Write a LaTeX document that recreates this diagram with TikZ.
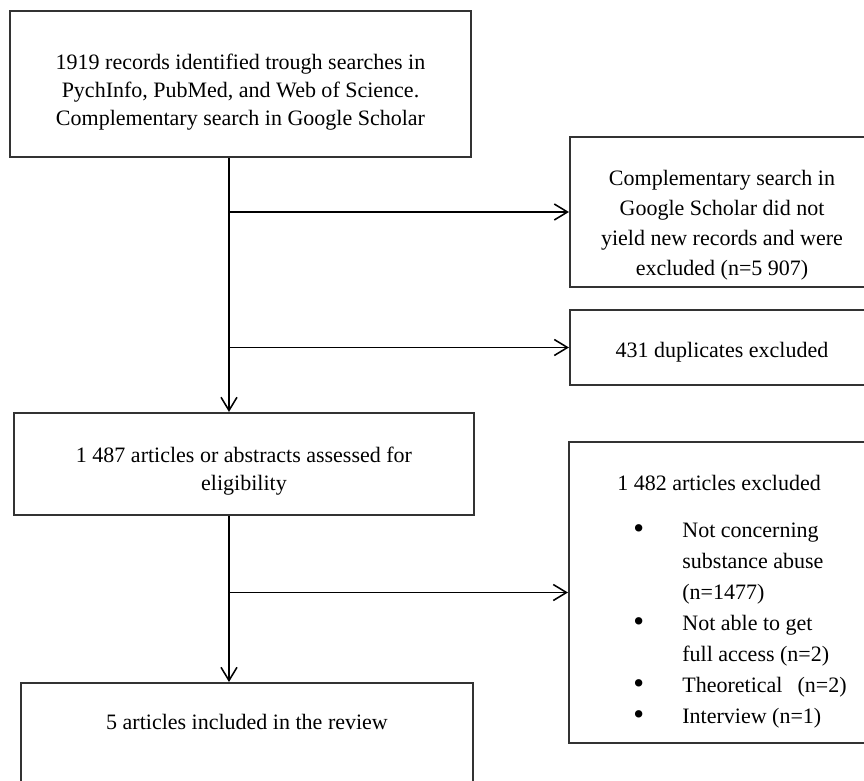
\documentclass[tikz,border=0pt]{standalone}
\usepackage{fontspec}
\setmainfont{Liberation Serif}
\usepackage{tikz}
\usetikzlibrary{positioning,arrows.meta}

\begin{document}
\begin{tikzpicture}[
    box/.style={rectangle, draw=black!80, line width=1.5pt, align=center, inner sep=0pt, font=\fontsize{15.65}{19.9}\selectfont},
    arrow/.style={-{Straight Barb[length=3.3mm,width=4mm]}, line width=1.1pt, draw=black}
]
    \useasboundingbox (0,0) rectangle (21.6,19.5);
    \clip (0,0) rectangle (21.6,19.5);
    \coordinate (trunk) at (5.725,0);

    \node[box, minimum width=11.525cm, minimum height=3.65cm] (records) at (6.0125,17.4) {\rule{0pt}{22.1pt}1919 records identified trough searches in\\PychInfo, PubMed, and Web of Science.\\Complementary search in Google Scholar};
    \node[box, font=\fontsize{15.65}{21.3}\selectfont, minimum width=7.6cm, minimum height=3.75cm] (scholar) at (18.05,14.2) {\rule{0pt}{29.2pt}Complementary search in\\Google Scholar did not\\yield new records and were\\excluded (n=5 907)};
    \node[box, minimum width=7.6cm, minimum height=1.875cm] (dupl) at (18.05,10.8125) {\rule{0pt}{17.8pt}431 duplicates excluded};
    \node[box, minimum width=11.5cm, minimum height=2.55cm] (eligib) at (6.1,7.9) {\rule{0pt}{20.7pt}1 487 articles or abstracts assessed for\\eligibility};
    \node[box, font=\fontsize{15.65}{22}\selectfont, minimum width=7.625cm, minimum height=7.525cm] (excluded) at (18.0375,4.6875) {%
        \begin{tabular}{@{\hspace{0.525cm}}p{1.625cm}@{}l@{}}
        \multicolumn{2}{@{\hspace{0.525cm}}l@{}}{\rule{0pt}{26.8pt}1 482 articles excluded}\\[12pt]
        \hspace*{0.4cm}\raisebox{-0.6pt}{\scalebox{1.4}{\textbullet}} & Not concerning\\
         & substance abuse\\
         & (n=1477)\\
        \hspace*{0.4cm}\raisebox{-0.6pt}{\scalebox{1.4}{\textbullet}} & Not able to get\\
         & full access (n=2)\\
        \hspace*{0.4cm}\raisebox{-0.6pt}{\scalebox{1.4}{\textbullet}} & Theoretical\hspace{0.375cm}(n=2)\\
        \hspace*{0.4cm}\raisebox{-0.6pt}{\scalebox{1.4}{\textbullet}} & Interview (n=1)
        \end{tabular}};
    \node[box, anchor=north, minimum width=11.3cm, text height=1.15cm, text depth=1.32cm] (included) at (6.175,2.45) {5 articles included in the review};

    \draw[arrow] (records.south -| trunk) -- (eligib.north -| trunk);
    \draw[arrow] (scholar.west -| trunk) -- (scholar.west);
    \draw[arrow] (dupl.west -| trunk) -- (dupl.west);
    \draw[arrow] (eligib.south -| trunk) -- (included.north -| trunk);
    \draw[arrow] (excluded.west -| trunk) -- (excluded.west);
\end{tikzpicture}
\end{document}
